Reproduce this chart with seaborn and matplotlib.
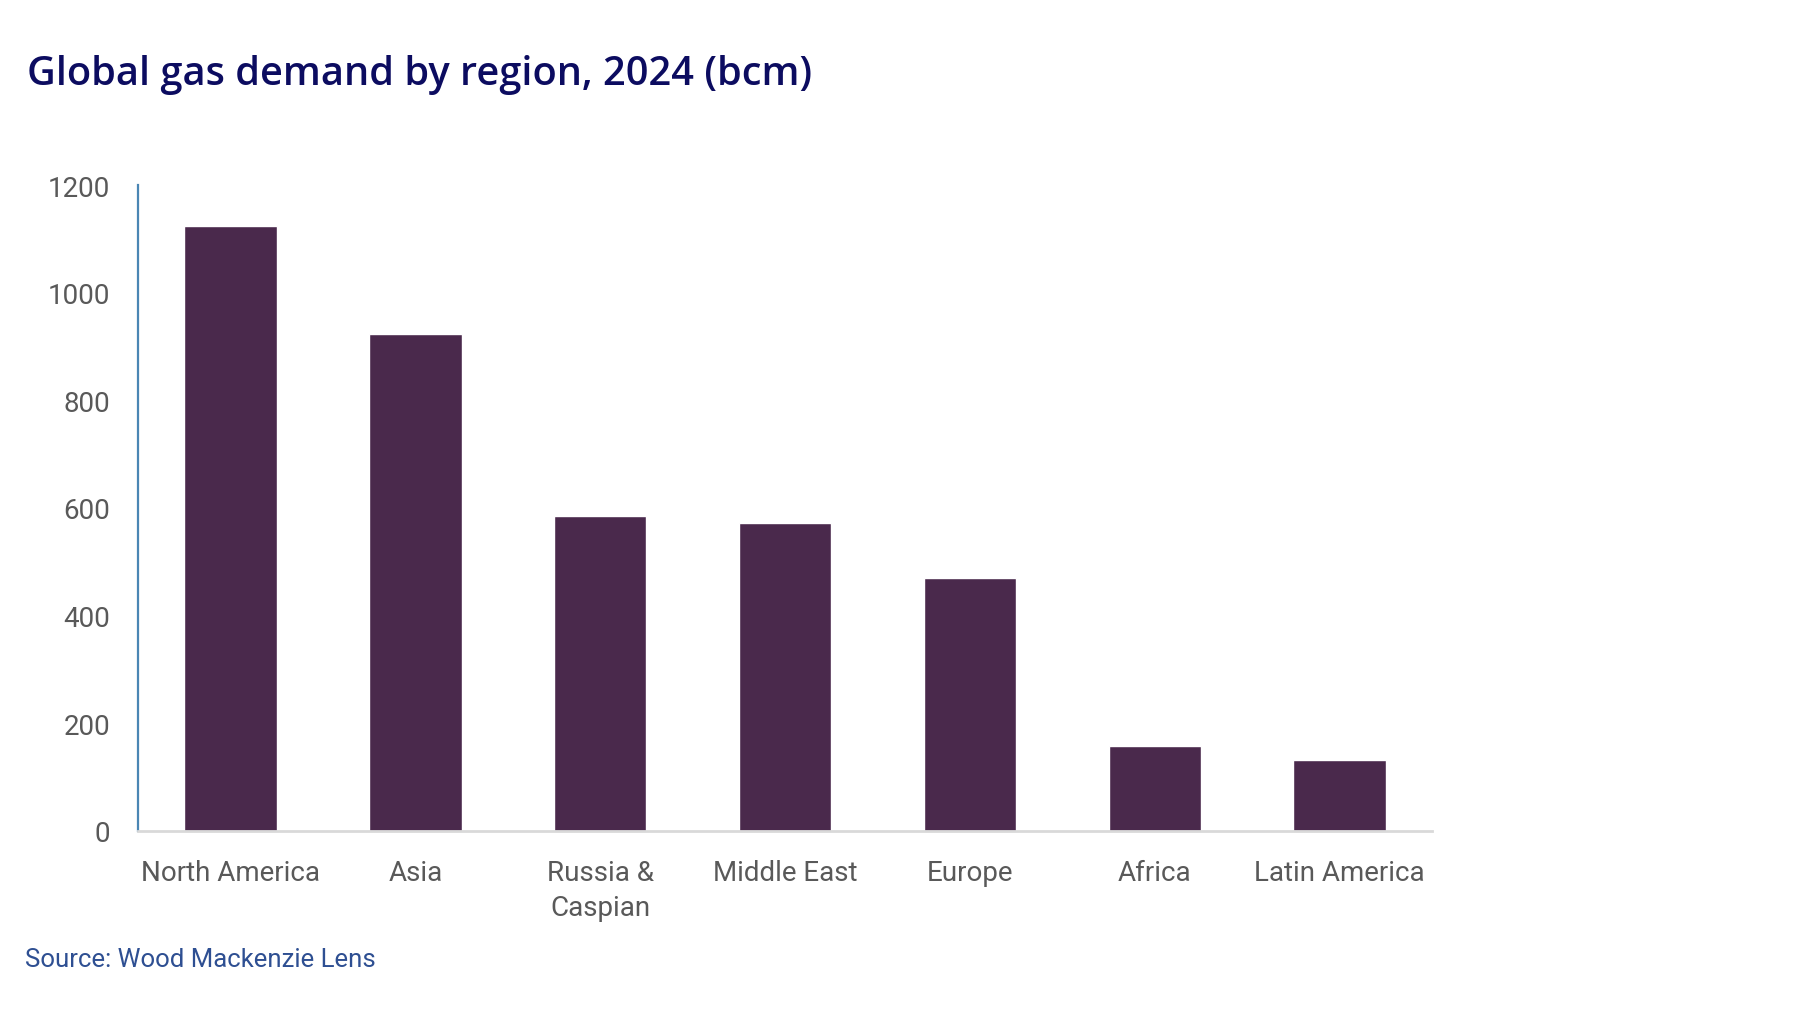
import matplotlib
matplotlib.use("Agg")
import matplotlib.pyplot as plt
import seaborn as sns
import pandas as pd

regions = ["North America", "Asia", "Russia &\nCaspian", "Middle East", "Europe", "Africa", "Latin America"]
demand_bcm = [1124, 923, 585, 572, 470, 158, 132]
y_ticks = [0, 200, 400, 600, 800, 1000, 1200]

sns.set_theme(style="white")
plt.rcParams['font.family'] = ['Roboto', 'DejaVu Sans']

df = pd.DataFrame({"region": regions, "demand": demand_bcm})

fig = plt.figure(figsize=(18, 10.12), dpi=100)
ax = fig.add_axes([0.0767, 0.1779, 0.7189, 0.6383])

sns.barplot(data=df, x="region", y="demand", color="#4a294c", width=0.5,
            saturation=1, ax=ax)

ax.set_ylim(0, 1200)
ax.set_xlim(-0.5, len(regions) - 0.5)
ax.set_yticks(y_ticks)
ax.set_yticklabels([str(t) for t in y_ticks])
ax.set_xlabel("")
ax.set_ylabel("")
ax.tick_params(axis="y", labelsize=20, labelcolor="#595959", length=0, pad=20)
ax.tick_params(axis="x", labelsize=20, labelcolor="#595959", length=0, pad=20)
for lbl in ax.get_xticklabels():
    lbl.set_linespacing(1.4)

for s in ["top", "right"]:
    ax.spines[s].set_visible(False)
ax.spines["left"].set_color("#4a86b4")
ax.spines["left"].set_linewidth(1.6)
ax.spines["bottom"].set_color("#d9d9d9")
ax.spines["bottom"].set_linewidth(2)

fig.text(0.015, 0.926, "Global gas demand by region, 2024 (bcm)", fontsize=28.6,
         color="#0c0c60", fontweight="semibold", family=["Open Sans", "DejaVu Sans"],
         va="center", ha="left")
fig.text(0.014, 0.051, "Source: Wood Mackenzie Lens", fontsize=18.5,
         color="#2e4f92", va="center", ha="left")

fig.savefig("out.png", dpi=100)
